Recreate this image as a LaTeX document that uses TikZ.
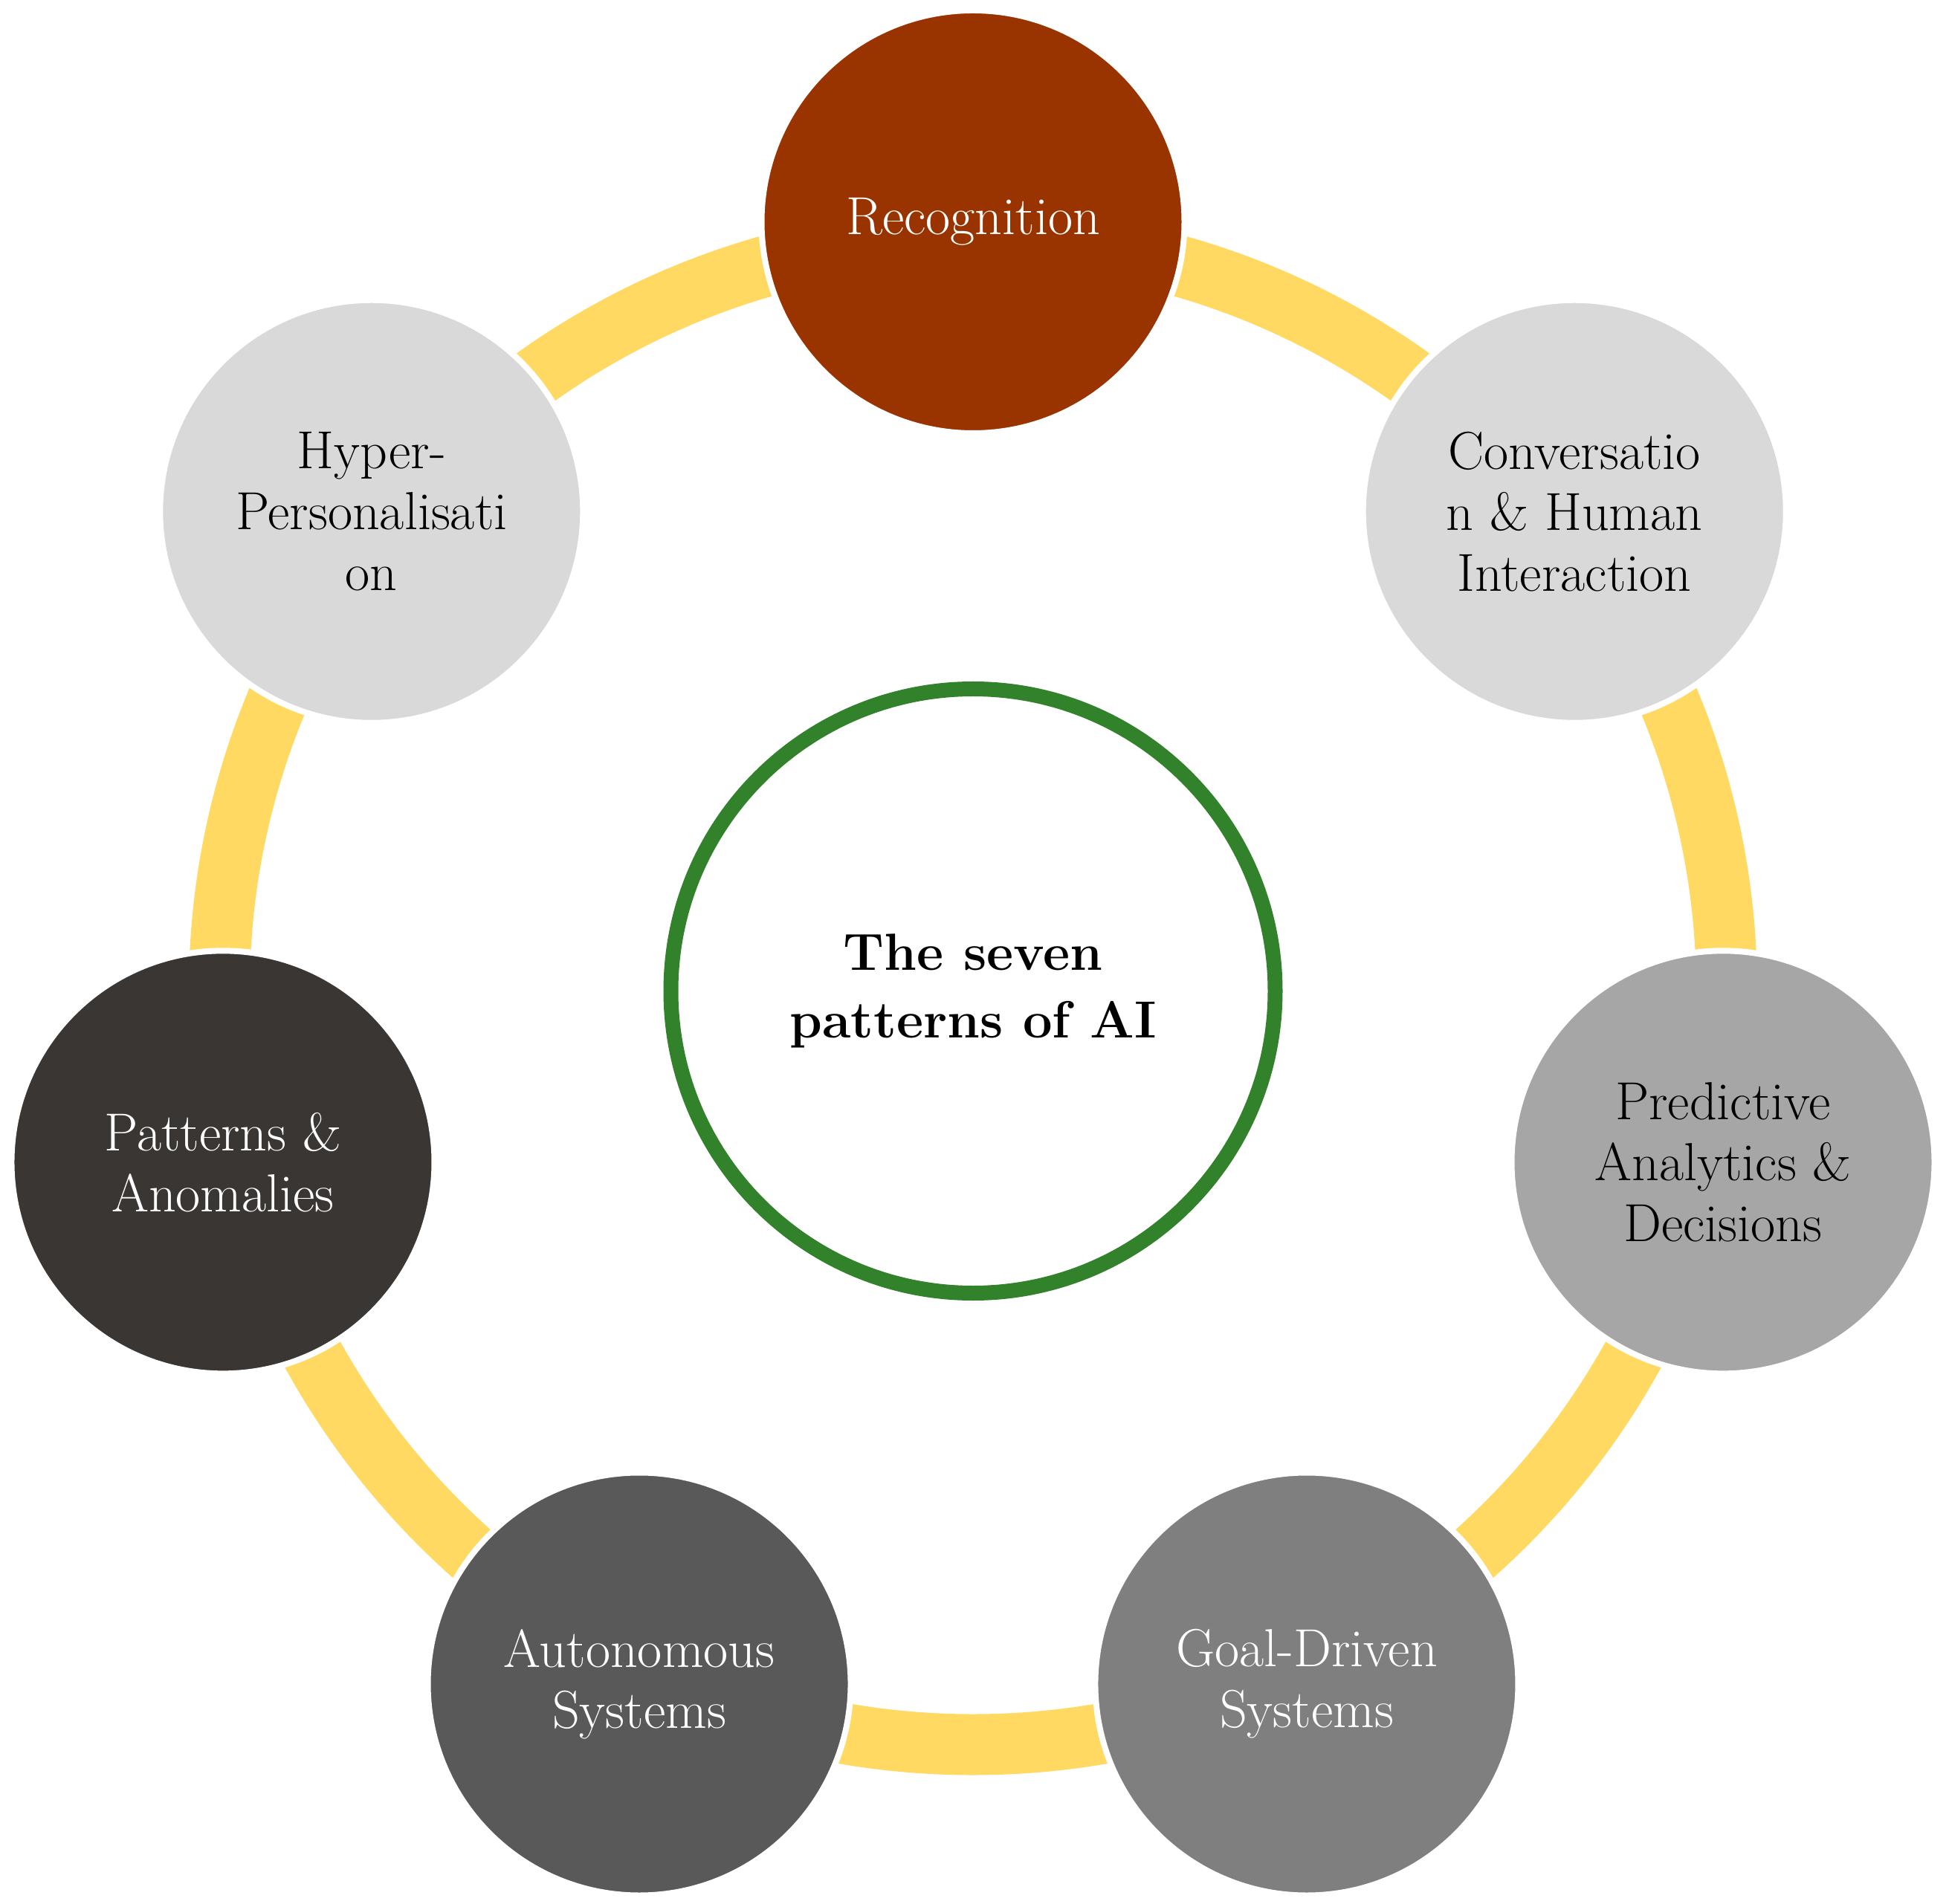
\documentclass[tikz,border=0pt]{standalone}
\usepackage{tikz}
\usetikzlibrary{positioning}
\usepackage{xcolor}

\definecolor{ringgold}{HTML}{FFD962}
\definecolor{hubgreen}{HTML}{31822B}
\definecolor{rust}{HTML}{993300}
\definecolor{grayA}{HTML}{D9D9D9}
\definecolor{grayB}{HTML}{A6A6A6}
\definecolor{grayC}{HTML}{7F7F7F}
\definecolor{grayD}{HTML}{595959}
\definecolor{grayE}{HTML}{3A3634}

\begin{document}
\begin{tikzpicture}[
        every node/.style={align=center, inner sep=0pt},
        pattern/.style={
            circle,
            minimum size=5.69cm,
            draw=white,
            line width=0.08cm,
            font=\fontsize{20.5}{23.3}\selectfont
        },
        hub/.style={
            circle,
            minimum size=8.13cm,
            draw=hubgreen,
            fill=white,
            line width=0.2cm,
            font=\fontsize{20}{26}\selectfont\bfseries
        }
    ]
        \useasboundingbox (-13.09,-12.275) rectangle (13.13,13.335);

        % Yellow ring under the pattern circles
        \coordinate (C) at (0,0);
        \draw[ringgold, line width=0.82cm] (C) circle[radius=10.14cm];

        % Centre
        \node[hub] (Hub) at (C) {The seven\\patterns of AI};

        % The seven patterns, clockwise from the top
        \node[pattern, fill=rust, text=white] (Rec) at (90:10.35) {Recognition};
        \node[pattern, fill=grayA] (Conv) at (38.57:10.35) {Conversatio\\n \& Human\\Interaction};
        \node[pattern, fill=grayB] (Pred) at (-12.86:10.35) {Predictive\\Analytics \&\\Decisions};
        \node[pattern, fill=grayC, text=white] (Goal) at (-64.29:10.35) {Goal-Driven\\Systems};
        \node[pattern, fill=grayD, text=white] (Auto) at (-115.71:10.35) {Autonomous\\Systems};
        \node[pattern, fill=grayE, text=white] (Anom) at (-167.14:10.35) {Patterns \&\\Anomalies};
        \node[pattern, fill=grayA] (Hyper) at (141.43:10.35) {Hyper-\\Personalisati\\on};
\end{tikzpicture}
\end{document}
